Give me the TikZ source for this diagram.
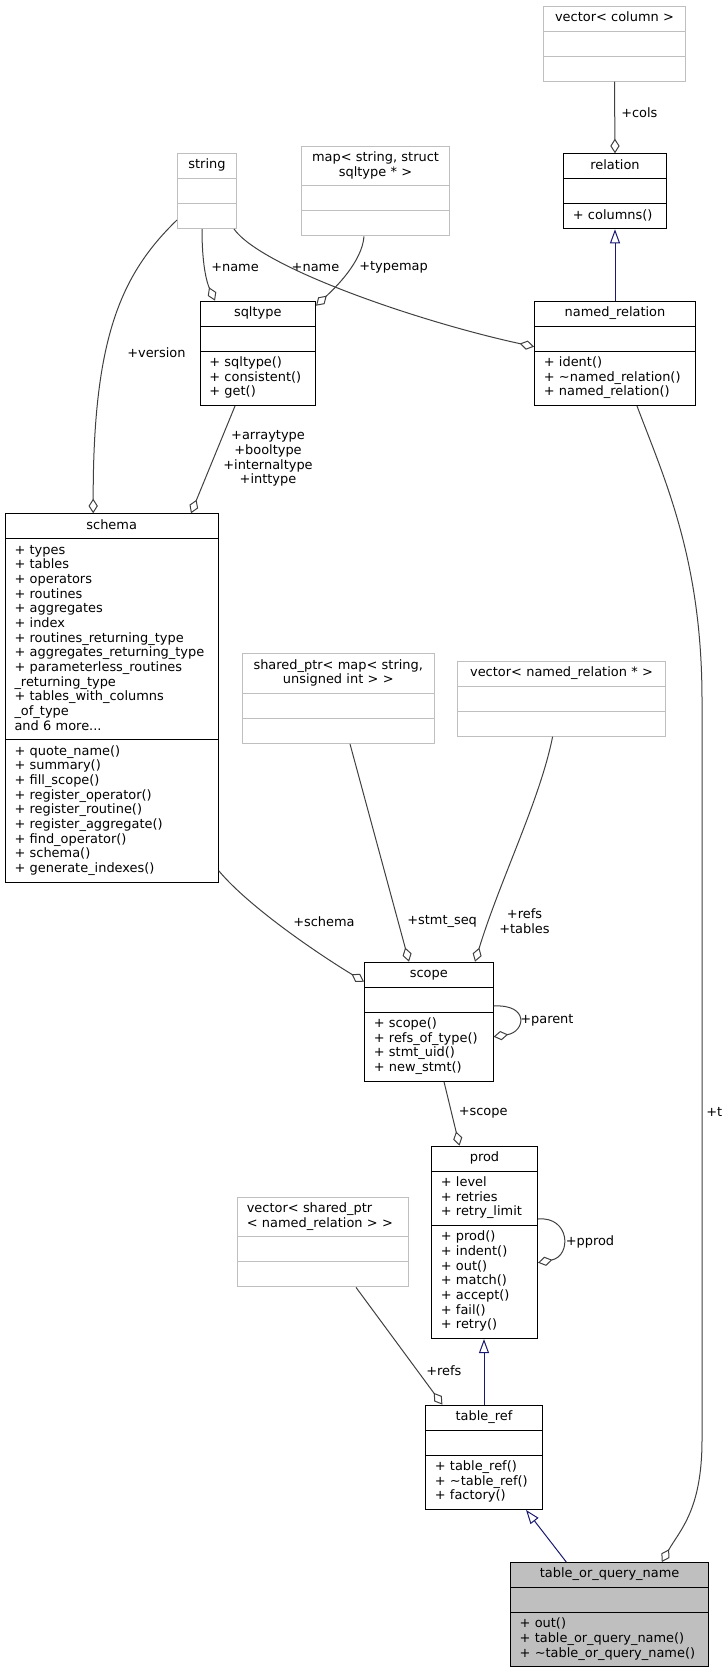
\documentclass[tikz,border=0pt]{standalone}
\usepackage{fontspec}
\setmainfont{DejaVu Sans}
\usepackage{tikz}
\usetikzlibrary{
  shapes.multipart,
  arrows.meta,
  calc
}
\definecolor{edgegray}{HTML}{404040}
\definecolor{midnightblue}{HTML}{191970}
\definecolor{grey75}{HTML}{BFBFBF}
\hyphenpenalty=10000
\exhyphenpenalty=10000

\begin{document}
\begin{tikzpicture}[
    x=0.75pt, y=-0.75pt,
    font=\fontsize{9.7}{11}\selectfont,
    cls/.style={
      rectangle split, rectangle split parts=3,
      draw=black, line width=0.75pt, fill=white,
      anchor=north west,
      inner xsep=7pt, inner ysep=3.5pt
    },
    ext/.style={cls, draw=grey75},
    boxw/.code={\pgfmathsetlengthmacro\clsw{#1*0.75pt-14pt}\tikzset{text width/.expanded=\clsw}},
    agg/.style={draw=edgegray, line width=0.75pt, -{Diamond[open,length=11pt,width=7pt]}},
    inh/.style={draw=midnightblue, line width=0.75pt, -{Triangle[open,length=10.5pt,width=7.5pt]}},
    lbl/.style={inner sep=0pt, anchor=west},
  ]
    \useasboundingbox (0,0) rectangle (727,1671);

    \node[ext, boxw=142]   (veccol)   at (543,5.7)     {\centering\strut vector< column >\par\nodepart{two}\strut\nodepart{three}\strut};
    \node[cls, boxw=103]   (relation) at (563,153.3)   {\centering\strut relation\par\nodepart{two}\strut\nodepart{three}\strut + columns()\strut};
    \node[ext, boxw=59]    (string)   at (177,153)     {\centering\strut string\par\nodepart{two}\strut\nodepart{three}\strut};
    \node[ext, boxw=148]   (typemap)  at (301,145.7)   {\centering\strut map< string, struct\\sqltype * >\strut\par\nodepart{two}\strut\nodepart{three}\strut};
    \node[cls, boxw=115.5] (sqltype)  at (199.5,300.7) {\centering\strut sqltype\par\nodepart{two}\strut\nodepart{three}\strut + sqltype()\\+ consistent()\\+ get()\strut};
    \node[cls, boxw=161]   (namedrel) at (534,300.7)   {\centering\strut named\_relation\par\nodepart{two}\strut\nodepart{three}\strut + ident()\\+ \textasciitilde named\_relation()\\+ named\_relation()\strut};
    \node[cls, boxw=213]   (schema)   at (4.7,513.3)   {\centering\strut schema\par\nodepart{two}\strut + types\\+ tables\\+ operators\\+ routines\\+ aggregates\\+ index\\+ routines\_returning\_type\\+ aggregates\_returning\_type\\+ parameterless\_routines\\\_returning\_type\\+ tables\_with\_columns\\\_of\_type\\and 6 more...\strut\nodepart{three}\strut + quote\_name()\\+ summary()\\+ fill\_scope()\\+ register\_operator()\\+ register\_routine()\\+ register\_aggregate()\\+ find\_operator()\\+ schema()\\+ generate\_indexes()\strut};
    \node[ext, boxw=191.5] (stmtseq)  at (242,653.3)   {\centering\strut shared\_ptr< map< string,\\unsigned int > >\strut\par\nodepart{two}\strut\nodepart{three}\strut};
    \node[ext, boxw=208]   (vecnr)    at (457,660.7)   {\centering\strut vector< named\_relation * >\par\nodepart{two}\strut\nodepart{three}\strut};
    \node[cls, boxw=128.6] (scope)    at (364,961.7)   {\centering\strut scope\par\nodepart{two}\strut\nodepart{three}\strut + scope()\\+ refs\_of\_type()\\+ stmt\_uid()\\+ new\_stmt()\strut};
    \node[cls, boxw=106]   (prod)     at (431,1145.7)  {\centering\strut prod\par\nodepart{two}\strut + level\\+ retries\\+ retry\_limit\strut\nodepart{three}\strut + prod()\\+ indent()\\+ out()\\+ match()\\+ accept()\\+ fail()\\+ retry()\strut};
    \node[ext, boxw=171]   (vecref)   at (237,1196.7)  {\strut vector< shared\_ptr\\< named\_relation > >\strut\nodepart{two}\strut\nodepart{three}\strut};
    \node[cls, boxw=117]   (tableref) at (425,1404.6)  {\centering\strut table\_ref\par\nodepart{two}\strut\nodepart{three}\strut + table\_ref()\\+ \textasciitilde table\_ref()\\+ factory()\strut};
    \node[cls, fill=grey75, boxw=198.6] (tqn) at (509.8,1562) {\centering\strut table\_or\_query\_name\par\nodepart{two}\strut\nodepart{three}\strut + out()\\+ table\_or\_query\_name()\\+ \textasciitilde table\_or\_query\_name()\strut};

    \node[lbl] (lcols)    at (621,112.7)  {+cols};
    \node[lbl] (lname)    at (211,267.7)  {+name};
    \node[lbl, anchor=center] (lnamerel) at (315.5,267.7) {+name};
    \node[lbl] (ltypemap) at (359,267.7)  {+typemap};
    \node[lbl] (lversion) at (127,352.7)  {+version};
    \node[lbl, anchor=center, align=center] (ltypes) at (268,458.7) {+arraytype\\+booltype\\+internaltype\\+inttype};
    \node[lbl] (lschema)  at (293,921.7)  {+schema};
    \node[lbl] (lstmtseq) at (407,921.7)  {+stmt\_seq};
    \node[lbl, anchor=center, align=center] (lrefs) at (524.5,921.3) {+refs\\+tables};
    \node[lbl] (lparent)  at (520,1020.7) {+parent};
    \node[lbl] (lscope)   at (458.5,1112.3) {+scope};
    \node[lbl] (lt)       at (706,1112.3) {+t};
    \node[lbl] (lpprod)   at (565.5,1241.7) {+pprod};
    \node[lbl] (lrefs2)   at (426,1371)   {+refs};

    \draw[agg] (veccol.south) -- (relation.north);
    \draw[inh] (namedrel.north) -- (relation.south);
    \draw[agg] ([shift={(25,0)}]string.south west) .. controls (202,270) and (208,285) .. ([shift={(15.5,0)}]sqltype.north west);
    \draw[agg] ([shift={(57,0)}]string.south west) .. controls (262,268) and (420,322) .. ([shift={(0,46)}]namedrel.north west);
    \draw[agg] ([shift={(63,0)}]typemap.south west) .. controls (362,262) and (335,288) .. ([shift={(0,5)}]sqltype.north east);
    \draw[agg] ([shift={(0,67)}]string.north west) .. controls (120,275) and (93,340) .. ([shift={(88.5,0)}]schema.north west);
    \draw[agg] ([shift={(35.5,0)}]sqltype.south west) -- ([shift={(186.3,0)}]schema.north west);
    \draw[agg] ([shift={(103,0)}]namedrel.south west) .. controls (665,480) and (702,560) .. (702,700) -- (702,1440) .. controls (702,1510) and (680,1530) .. ([shift={(152,0)}]tqn.north west);
    \draw[agg] ([shift={(0,357.4)}]schema.north east) .. controls (250,908) and (320,955) .. ([shift={(0,20)}]scope.north west);
    \draw[agg] ([shift={(108,0)}]stmtseq.south west) -- ([shift={(45,0)}]scope.north west);
    \draw[agg] ([shift={(95.6,0)}]vecnr.south west) .. controls (540,800) and (500,880) .. ([shift={(111,0)}]scope.north west);
    \draw[agg] ([shift={(0,44.3)}]scope.north east) .. controls (530,1004) and (525,1032) .. ([shift={(0,75)}]scope.north east);
    \draw[agg] ([shift={(80,0)}]scope.south west) -- ([shift={(28.5,0)}]prod.north west);
    \draw[agg] ([shift={(0,73.3)}]prod.north east) .. controls (570,1216) and (572,1256) .. ([shift={(0,117)}]prod.north east);
    \draw[agg] ([shift={(119,0)}]vecref.south west) -- ([shift={(17.4,0)}]tableref.north west);
    \draw[inh] (tableref.north) -- (tableref.north |- prod.south);
    \draw[inh] ([shift={(56.5,0)}]tqn.north west) -- ([shift={(101,0)}]tableref.south west);
  \end{tikzpicture}
\end{document}
